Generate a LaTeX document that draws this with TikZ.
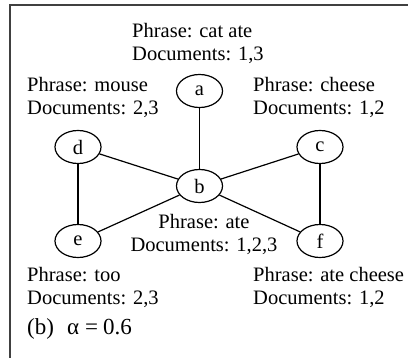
\documentclass[tikz,border=0pt]{standalone}
\usepackage{fontspec}
\setmainfont{Liberation Serif}
\usetikzlibrary{shapes.geometric,positioning}

\begin{document}
\begin{tikzpicture}[x=1pt, y=-1pt,
        term/.style={draw, ellipse, line width=1.2pt, minimum width=46pt, minimum height=33pt,
                     inner sep=0pt, font=\fontsize{20.5}{23}\selectfont},
        info/.style={anchor=north west, align=left, inner sep=0pt, font=\fontsize{20.5}{23}\selectfont},
        link/.style={line width=1.2pt}]
        \useasboundingbox (0,0) rectangle (408,358);
        \draw[line width=2pt, black!75] (10,358) -- (10,5.5) -- (408,5.5);
        % terms
        \node[term] (a) at (199.5,91) {a};
        \node[term] (b) at (199.5,186) {b};
        \node[term] (c) at (320,147) {c};
        \node[term] (d) at (78,147) {d};
        \node[term] (e) at (78,241) {e};
        \node[term] (f) at (320,241) {f};
        \draw[link] (a) -- (b);
        \draw[link] (d) -- (b);
        \draw[link] (c) -- (b);
        \draw[link] (e) -- (b);
        \draw[link] (f) -- (b);
        \draw[link] (d) -- (e);
        \draw[link] (c) -- (f);
        % phrases
        \node[info] (la) at (132,23) {Phrase: cat ate\\Documents: 1,3};
        \node[info] (ld) at (27,77.5) {Phrase: mouse\\Documents: 2,3};
        \node[info] (lc) at (253,77.5) {Phrase: cheese\\Documents: 1,2};
        \node[info, anchor=north, align=center] (lb) at (204,214.5) {Phrase: ate\\Documents: 1,2,3};
        \node[info] (le) at (27,267.5) {Phrase: too\\Documents: 2,3};
        \node[info] (lf) at (253,267.5) {Phrase: ate cheese\\Documents: 1,2};
        \node[anchor=base west, inner sep=0pt, font=\fontsize{23}{25}\selectfont] (cap) at (27,335)
            {(b)\hspace{13pt}α\hspace{6pt}=\hspace{5pt}0.6};
\end{tikzpicture}
\end{document}
